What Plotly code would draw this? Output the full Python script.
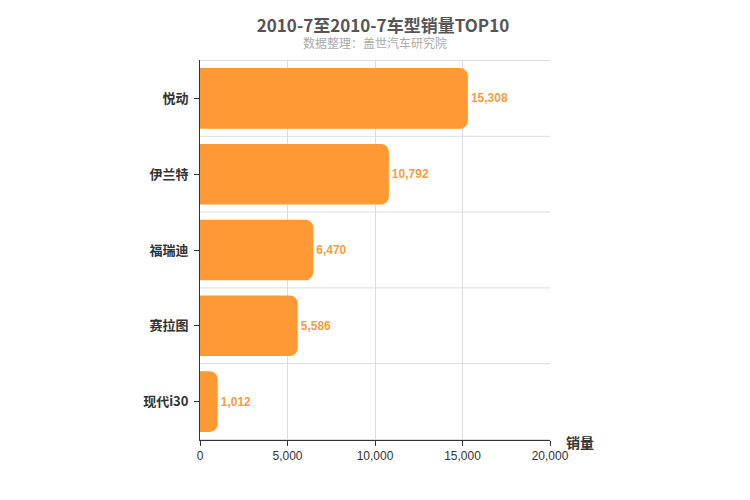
import plotly.graph_objects as go

models = ["悦动", "伊兰特", "福瑞迪", "赛拉图", "现代i30"]
sales = [15308, 10792, 6470, 5586, 1012]

fig = go.Figure(go.Bar(
    x=sales, y=models, orientation="h",
    marker=dict(color="#FF9933", cornerradius=8, line=dict(width=0)),
    width=0.8,
    text=[f"<b>{v:,}</b>" for v in sales], textposition="outside",
    textfont=dict(color="#F0A040", size=12, family="Arial"),
    cliponaxis=False,
))

# horizontal separators between categories
for i in range(len(models) + 1):
    fig.add_shape(type="line", xref="x", yref="y", x0=0, x1=20000,
                  y0=i - 0.5, y1=i - 0.5, line=dict(color="#DDDDDD", width=1), layer="below")

fig.update_layout(
    width=750, height=500,
    margin=dict(l=192, r=208, t=52, b=68),
    paper_bgcolor="white", plot_bgcolor="white",
    font=dict(family="Noto Sans CJK SC, Arial", color="#333"),
    title=dict(text="<b>2010-7至2010-7车型销量TOP10</b>", x=0.5, y=0.975,
               xanchor="center", font=dict(size=17, color="#555")),
    showlegend=False,
    annotations=[
        dict(text="数据整理：盖世汽车研究院", xref="paper", yref="paper", x=0.5, y=1.075,
             showarrow=False, font=dict(size=12, color="#AAAAAA")),
        dict(text="<b>销量</b>", xref="paper", yref="paper", x=1.04, y=-0.005,
             xanchor="left", yanchor="middle", showarrow=False, font=dict(size=14, color="#333")),
    ],
)
fig.update_xaxes(range=[0, 20000], dtick=5000, tickformat=",", showgrid=True,
                 gridcolor="#DDDDDD", zeroline=False, showline=True, linecolor="#333",
                 ticks="outside", tickcolor="#333", mirror=False,
                 tickfont=dict(size=12, family="Arial", color="#333"))
fig.update_yaxes(autorange="reversed", showgrid=False, showline=True, linecolor="#333",
                 ticks="outside", tickcolor="#333", ticklen=5,
                 tickprefix="<b>", ticksuffix="</b> ",
                 tickfont=dict(size=13, color="#333"))

fig.write_html("out.html")
